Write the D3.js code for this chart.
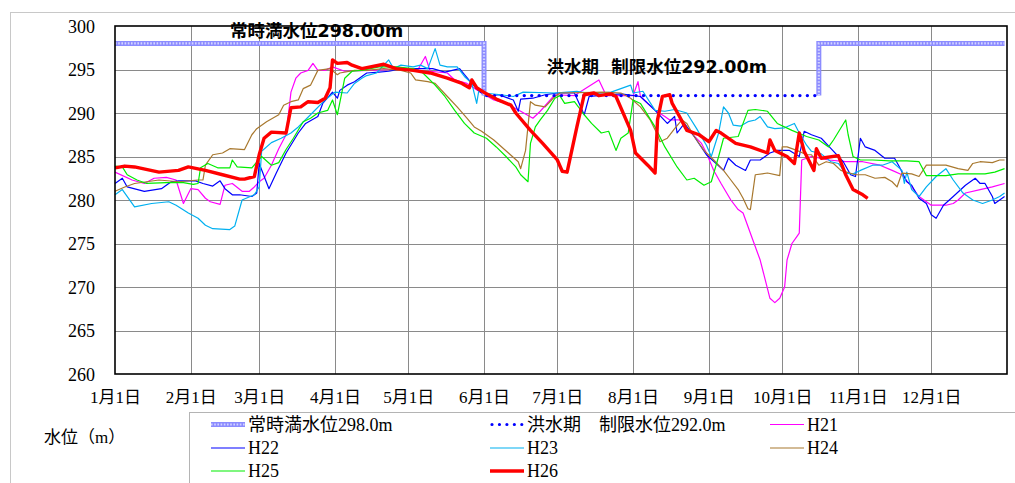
<!DOCTYPE html>
<html><head><meta charset="utf-8">
<script src="https://cdn.jsdelivr.net/npm/d3@7"></script>
<style>
body{margin:0;background:#fff;}
svg{display:block;}
</style></head>
<body><svg id="c" width="1015" height="483"></svg>
<script>
// ---------- data ----------
const monthLabels = ["1月1日","2月1日","3月1日","4月1日","5月1日","6月1日","7月1日","8月1日","9月1日","10月1日","11月1日","12月1日"];
const yTicks = [260,265,270,275,280,285,290,295,300];
const normalLevelA = [["1/1",298],["6/1",298],["6/1",292]];
const normalLevelB = [["10/16",292],["10/16",298],["12/31",298]];
const floodLevel = [["6/1",292],["10/16",292]];

const h21 = [["1/1",283.2],["1/8",282.3],["1/13",281.9],["1/17",282.5],["1/22",282.6],["1/26",282.3],["1/29",279.6],["2/1",281.3],["2/4",281.2],["2/7",280.2],["2/9",279.8],["2/13",279.5],["2/15",281.7],["2/18",281.9],["2/22",281.0],["2/25",281.0],["2/27",281.5],["3/1",282.1],["3/3",282.5],["3/6",284.0],["3/9",285.9],["3/12",287.5],["3/14",292.4],["3/16",294.0],["3/18",294.6],["3/21",294.9],["3/23",295.7],["3/25",294.9],["3/28",294.9],["3/31",295.3],["4/5",294.8],["4/15",294.9],["4/25",295.0],["5/5",295.0],["5/8",296.5],["5/10",294.8],["5/17",294.6],["5/20",293.8],["5/25",293.4],["5/31",292.3],["6/5",291.5],["6/10",291.1],["6/16",290.2],["6/21",289.4],["6/24",290.2],["6/30",292.1],["7/8",292.0],["7/18",293.8],["7/21",292.0],["8/1",292.0],["8/3",293.6],["8/4",291.9],["8/10",290.3],["8/14",289.6],["8/16",289.2],["8/20",289.2],["8/23",288.2],["8/29",286.5],["8/31",285.4],["9/3",283.4],["9/6",281.9],["9/10",280.0],["9/13",278.9],["9/15",278.5],["9/19",275.4],["9/22",273.1],["9/26",268.7],["9/28",268.2],["9/30",268.7],["10/2",270.0],["10/3",273.1],["10/5",275.0],["10/7",275.8],["10/8",276.2],["10/9",284.6],["10/13",285.0],["10/20",284.6],["10/27",284.4],["11/3",284.4],["11/10",284.0],["11/15",283.4],["11/19",282.9],["11/23",281.5],["11/26",280.4],["11/29",279.8],["12/1",279.4],["12/7",279.4],["12/10",279.6],["12/12",280.0],["12/15",280.8],["12/21",281.2],["12/26",281.5],["12/31",281.9]];

const h22 = [["1/1",281.9],["1/4",282.5],["1/6",281.5],["1/13",281.0],["1/20",281.3],["1/24",282.1],["1/27",282.2],["2/3",282.2],["2/6",281.9],["2/10",281.6],["2/13",282.2],["2/15",281.3],["2/18",280.6],["2/21",280.6],["2/26",280.4],["2/28",280.8],["3/1",284.2],["3/5",281.3],["3/8",283.1],["3/12",285.4],["3/17",287.7],["3/20",288.8],["3/25",289.6],["3/27",291.1],["3/31",292.4],["4/2",291.7],["4/3",292.6],["4/6",293.2],["4/9",293.6],["4/12",294.2],["4/14",294.6],["4/19",294.7],["4/23",294.8],["4/27",295.0],["5/4",295.1],["5/11",295.1],["5/16",294.7],["5/22",295.1],["5/24",294.4],["5/27",293.4],["5/30",292.5],["6/2",291.9],["6/7",292.1],["6/13",291.5],["6/15",290.2],["6/16",291.6],["6/21",291.7],["6/26",292.1],["7/1",292.3],["7/8",292.3],["7/12",289.8],["7/14",291.9],["7/27",292.2],["8/4",291.9],["8/10",290.3],["8/15",288.8],["8/18",289.6],["8/19",287.7],["8/22",288.8],["8/26",287.3],["8/31",285.2],["9/4",284.2],["9/7",283.4],["9/9",284.8],["9/12",284.0],["9/16",283.4],["9/18",284.6],["9/22",284.6],["9/26",285.4],["9/29",285.7],["10/4",285.7],["10/8",285.0],["10/10",287.9],["10/13",287.5],["10/17",287.1],["10/21",285.9],["10/26",284.4],["10/29",282.9],["10/31",282.7],["11/2",287.1],["11/4",286.1],["11/8",285.7],["11/12",284.8],["11/16",284.8],["11/18",283.8],["11/21",282.1],["11/23",281.7],["11/26",280.2],["11/29",279.6],["12/1",278.3],["12/3",277.9],["12/6",279.4],["12/10",280.4],["12/15",281.7],["12/19",282.5],["12/21",281.9],["12/23",281.9],["12/26",280.4],["12/27",279.6],["12/30",280.2],["12/31",280.4]];

const h23 = [["1/1",280.6],["1/4",281.2],["1/9",279.2],["1/16",279.6],["1/23",279.8],["1/26",279.4],["1/31",278.5],["2/4",277.9],["2/7",277.1],["2/10",276.7],["2/17",276.6],["2/19",277.0],["2/22",280.0],["2/27",280.6],["3/1",281.5],["3/2",285.6],["3/6",286.6],["3/10",287.1],["3/14",287.7],["3/17",288.4],["3/22",289.8],["3/28",291.5],["4/1",292.4],["4/6",292.3],["4/9",293.4],["4/12",294.0],["4/14",294.3],["4/18",294.6],["4/23",296.1],["4/25",295.1],["4/28",295.5],["5/3",295.3],["5/6",295.5],["5/9",295.1],["5/12",297.4],["5/14",295.5],["5/17",295.3],["5/21",295.3],["5/24",294.2],["5/27",293.4],["5/29",291.1],["5/30",292.8],["6/1",292.3],["6/8",292.1],["6/13",291.9],["6/17",292.4],["6/30",292.3],["7/9",292.5],["7/15",292.2],["7/23",292.4],["7/31",293.2],["8/1",292.3],["8/5",292.5],["8/10",290.3],["8/14",290.2],["8/18",290.4],["8/23",290.0],["8/27",288.2],["8/31",286.3],["9/2",285.0],["9/5",287.7],["9/7",290.7],["9/9",290.0],["9/11",288.6],["9/14",288.5],["9/17",289.0],["9/20",289.2],["9/22",289.6],["9/25",288.4],["9/28",288.2],["10/2",288.3],["10/6",288.8],["10/8",287.7],["10/11",286.3],["10/13",285.6],["10/17",285.3],["10/21",284.4],["10/24",284.2],["10/27",283.1],["10/30",283.0],["11/2",283.4],["11/7",284.0],["11/11",284.0],["11/15",284.4],["11/19",283.4],["11/20",281.9],["11/21",283.2],["11/23",281.2],["11/26",280.4],["11/29",281.5],["12/3",282.7],["12/7",283.6],["12/10",282.3],["12/14",280.8],["12/18",280.0],["12/22",279.6],["12/26",280.0],["12/29",280.4],["12/31",280.8]];

const h24 = [["1/1",281.0],["1/5",281.5],["1/9",281.9],["1/19",282.3],["1/27",282.1],["2/4",282.3],["2/6",282.3],["2/7",284.0],["2/10",285.2],["2/14",285.4],["2/17",285.9],["2/23",285.8],["2/26",287.5],["2/28",288.2],["3/4",289.0],["3/9",289.8],["3/11",290.9],["3/14",291.3],["3/17",291.5],["3/19",292.8],["3/22",293.2],["3/25",294.9],["3/30",295.1],["4/2",294.4],["4/3",294.6],["4/9",294.9],["4/14",294.9],["4/21",295.1],["4/28",294.9],["5/2",294.6],["5/4",293.8],["5/9",293.6],["5/12",293.4],["5/17",291.9],["5/21",290.7],["5/25",289.4],["5/28",288.4],["5/31",287.9],["6/2",287.5],["6/5",286.9],["6/11",285.4],["6/15",284.4],["6/16",283.6],["6/18",285.7],["6/20",291.3],["6/22",290.9],["6/26",290.7],["6/30",291.9],["7/2",292.3],["7/20",292.4],["7/27",292.3],["7/31",291.7],["8/4",290.7],["8/8",289.2],["8/11",287.5],["8/12",286.7],["8/15",287.1],["8/18",288.2],["8/21",289.2],["8/23",288.8],["8/26",287.3],["8/30",285.7],["9/3",284.6],["9/7",283.4],["9/10",282.3],["9/13",281.2],["9/15",280.2],["9/17",279.0],["9/18",278.9],["9/20",282.9],["9/25",283.1],["9/30",282.8],["10/1",286.1],["10/3",286.1],["10/7",285.7],["10/11",285.2],["10/13",285.2],["10/16",284.0],["10/19",284.4],["10/22",284.2],["10/25",283.4],["10/31",282.9],["11/4",282.9],["11/8",282.5],["11/12",282.6],["11/15",282.1],["11/17",281.5],["11/19",283.1],["11/23",283.0],["11/26",282.7],["11/29",284.0],["12/3",284.0],["12/7",284.0],["12/12",283.6],["12/16",283.4],["12/18",284.2],["12/21",284.4],["12/26",284.3],["12/29",284.6],["12/31",284.6]];

const h25 = [["1/1",283.9],["1/4",283.8],["1/6",282.9],["1/10",282.3],["1/14",281.9],["1/22",282.0],["1/29",282.0],["2/2",281.8],["2/4",281.9],["2/5",283.7],["2/8",284.2],["2/12",283.7],["2/17",283.7],["2/18",284.6],["2/20",283.8],["2/26",283.7],["3/2",285.0],["3/6",284.0],["3/9",284.3],["3/12",285.8],["3/15",287.1],["3/19",289.0],["3/22",289.4],["3/25",290.0],["3/29",290.3],["3/31",291.5],["4/2",289.8],["4/4",292.6],["4/5",294.0],["4/8",294.8],["4/12",294.9],["4/19",295.3],["4/26",295.3],["5/3",295.1],["5/7",294.6],["5/12",293.2],["5/16",291.9],["5/20",290.3],["5/24",288.8],["5/28",287.7],["6/2",287.1],["6/6",286.1],["6/10",285.0],["6/14",283.8],["6/16",282.9],["6/19",282.1],["6/20",286.5],["6/22",288.4],["6/24",289.2],["6/27",290.3],["6/30",291.7],["7/2",292.0],["7/4",291.1],["7/8",291.3],["7/12",289.8],["7/15",288.8],["7/19",287.7],["7/22",287.9],["7/25",285.7],["7/27",287.1],["7/30",287.7],["8/1",291.5],["8/4",291.1],["8/10",288.4],["8/14",286.1],["8/19",283.8],["8/23",282.3],["8/26",282.5],["8/30",281.7],["9/2",282.1],["9/5",285.0],["9/7",287.1],["9/13",287.3],["9/17",290.3],["9/20",290.4],["9/25",290.2],["9/29",288.8],["10/5",288.0],["10/11",287.3],["10/16",286.9],["10/20",286.1],["10/22",286.9],["10/27",289.2],["10/28",287.5],["10/30",285.0],["11/2",284.6],["11/7",284.6],["11/14",284.5],["11/21",284.5],["11/26",284.4],["11/29",282.8],["12/1",282.8],["12/7",282.8],["12/12",283.0],["12/23",283.0],["12/27",283.2],["12/31",283.6]];

const h26 = [["1/1",283.7],["1/5",283.9],["1/9",283.8],["1/19",283.2],["1/27",283.4],["1/31",283.8],["2/7",283.4],["2/14",282.9],["2/21",282.4],["2/23",282.4],["2/27",282.7],["3/1",285.2],["3/3",287.1],["3/6",287.8],["3/12",287.7],["3/14",290.6],["3/18",290.7],["3/21",291.3],["3/25",291.2],["3/28",291.7],["3/30",292.9],["3/31",296.1],["4/2",295.7],["4/6",295.8],["4/8",295.5],["4/12",295.1],["4/21",295.6],["4/26",295.1],["5/3",294.9],["5/10",294.6],["5/17",294.0],["5/23",293.4],["5/26",292.9],["5/27",293.8],["5/29",292.9],["6/2",292.2],["6/6",291.6],["6/12",290.9],["6/14",290.0],["6/20",288.0],["6/25",286.5],["7/1",284.6],["7/3",283.3],["7/5",283.2],["7/9",288.4],["7/12",292.1],["7/16",292.3],["7/18",292.0],["7/23",292.2],["7/25",291.9],["7/31",288.0],["8/2",285.4],["8/7",284.0],["8/10",283.1],["8/11",289.2],["8/13",291.9],["8/16",292.1],["8/17",291.1],["8/20",289.6],["8/23",288.0],["8/28",287.5],["9/1",286.7],["9/4",288.0],["9/6",287.7],["9/12",286.5],["9/18",286.1],["9/25",285.4],["9/26",286.9],["9/28",285.7],["10/3",285.0],["10/6",284.2],["10/8",287.7],["10/10",285.6],["10/14",283.4],["10/15",285.9],["10/17",284.8],["10/24",285.1],["10/27",282.9],["10/30",281.2],["11/3",280.6],["11/5",280.2]];

const seriesNames = ["H21","H22","H23","H24","H25","H26"];
const seriesData = [h21,h22,h23,h24,h25,h26];
const seriesColors = ["#ff00ff","#0000ff","#00b0f0","#a8782e","#00ee00","#ff0000"];
const normalLabel = "常時満水位298.0m";
const floodLabel = "洪水期　制限水位292.0m";
const normalNote = "常時満水位298.00m";
const floodNote = "洪水期\u00a0\u00a0制限水位292.00m";
const yTitle = "水位（m）";

// ---------- drawing ----------
const SERIF = '"Liberation Serif", "Noto Sans CJK JP"';
const GOTH = '"DejaVu Sans", "Noto Sans CJK JP"';
const svg = d3.select("#c");
const parse = s => d3.timeParse("%Y/%m/%d")("2014/" + s);
const X0 = 115, X1 = 1007, Y0 = 26, Y1 = 374;
const x = d3.scaleTime().domain([new Date(2014,0,1), new Date(2015,0,1)]).range([X0, X1]);
const y = d3.scaleLinear().domain([260,300]).range([Y1, Y0]);

// outer frame
svg.append("rect").attr("x",10.5).attr("y",12.5).attr("width",1100).attr("height",600)
  .attr("fill","none").attr("stroke","#c8c8c8");

const monthDates = d3.range(12).map(m => new Date(2014,m,1));

// grid
const grid = svg.append("g");
grid.selectAll(".vg").data(monthDates.slice(1)).join("line")
  .attr("x1",d=>Math.round(x(d))+0.5).attr("x2",d=>Math.round(x(d))+0.5)
  .attr("y1",Y0).attr("y2",Y1).attr("stroke","#8a8a8a").attr("stroke-width",1);
grid.selectAll(".hg").data(yTicks.slice(1,-1)).join("line")
  .attr("x1",X0).attr("x2",X1)
  .attr("y1",d=>Math.round(y(d))+0.5).attr("y2",d=>Math.round(y(d))+0.5)
  .attr("stroke","#8a8a8a").attr("stroke-width",1);

// axes (labels only)
const yAxis = d3.axisLeft(y).tickValues(yTicks).tickSize(0).tickPadding(20).tickFormat(d3.format("d"));
const gy = svg.append("g").attr("transform",`translate(${X0},0)`).call(yAxis)
  .attr("font-family",SERIF).attr("font-size",18);
gy.select(".domain").remove();
gy.selectAll("text").attr("fill","#000").attr("dy","0.34em");

const xAxis = d3.axisBottom(x).tickValues(monthDates).tickSize(0).tickPadding(17)
  .tickFormat((d,i)=>monthLabels[i]);
const gx = svg.append("g").attr("transform",`translate(0,${Y1})`).call(xAxis)
  .attr("font-family",SERIF).attr("font-size",17);
gx.select(".domain").remove();
gx.selectAll("text").attr("fill","#000");

const line = d3.line().x(d=>x(parse(d[0]))).y(d=>y(d[1]));

const plot = svg.append("g");
seriesData.forEach((s,i)=>{
  if (i===5) return;
  plot.append("path").attr("d",line(s)).attr("fill","none")
    .attr("stroke",seriesColors[i]).attr("stroke-width",1.2).attr("stroke-linejoin","round");
});

function hatched(g, d){
  g.append("path").attr("d",d).attr("fill","none").attr("stroke","#8c8cff").attr("stroke-width",5);
  g.append("path").attr("d",d).attr("fill","none").attr("stroke","#d4d4ff").attr("stroke-width",2.2)
    .attr("stroke-dasharray","1.6,1.6");
}
hatched(plot, line(normalLevelA));
hatched(plot, line(normalLevelB));
plot.append("path").attr("d",line(floodLevel)).attr("fill","none").attr("stroke","#0000ff")
  .attr("stroke-width",3.4).attr("stroke-linecap","round").attr("stroke-dasharray","0,7.45")
  .attr("transform","translate(3,0)");

plot.append("path").attr("d",line(h26)).attr("fill","none").attr("stroke",seriesColors[5])
  .attr("stroke-width",3.4).attr("stroke-linejoin","round");

// frame
svg.append("rect").attr("x",X0).attr("y",Y0).attr("width",X1-X0).attr("height",Y1-Y0)
  .attr("fill","none").attr("stroke","#000").attr("stroke-width",1.6);

// notes
svg.append("text").attr("x",230).attr("y",37).text(normalNote)
  .attr("font-family",GOTH).attr("font-weight","bold").attr("font-size",17.5);
svg.append("text").attr("x",546.5).attr("y",72.5).text(floodNote)
  .attr("font-family",GOTH).attr("font-weight","bold").attr("font-size",17.5);

// y title
svg.append("text").attr("x",44).attr("y",443).text(yTitle)
  .attr("font-family",SERIF).attr("font-size",17);

// legend
svg.append("rect").attr("x",189.5).attr("y",412.5).attr("width",900).attr("height",200)
  .attr("fill","#fff").attr("stroke","#b4b4b4");
const legItems = [
  {label:normalLabel, type:"normal"},
  {label:floodLabel, type:"flood"},
  {label:"H21", i:0},{label:"H22", i:1},{label:"H23", i:2},{label:"H24", i:3},{label:"H25", i:4},{label:"H26", i:5}
];
const colX = [211, 490, 770], rowY = [424.5, 448, 471];
legItems.forEach((it,k)=>{
  const cx = colX[k%3], cy = rowY[Math.floor(k/3)];
  const g = svg.append("g");
  const d = `M${cx},${cy}L${cx+34},${cy}`;
  if (it.type==="normal") hatched(g, d);
  else if (it.type==="flood") g.append("path").attr("d",`M${cx+2},${cy}L${cx+34},${cy}`).attr("stroke","#0000ff")
      .attr("stroke-width",3.2).attr("stroke-linecap","round").attr("stroke-dasharray","0,7.45");
  else g.append("path").attr("d",d).attr("stroke",seriesColors[it.i]).attr("stroke-width",it.i===5?3.4:1.2);
  g.append("text").attr("x",cx+37).attr("y",cy+6).text(it.label)
    .attr("font-family",SERIF).attr("font-size",18).attr("fill","#000");
});
</script></body></html>
